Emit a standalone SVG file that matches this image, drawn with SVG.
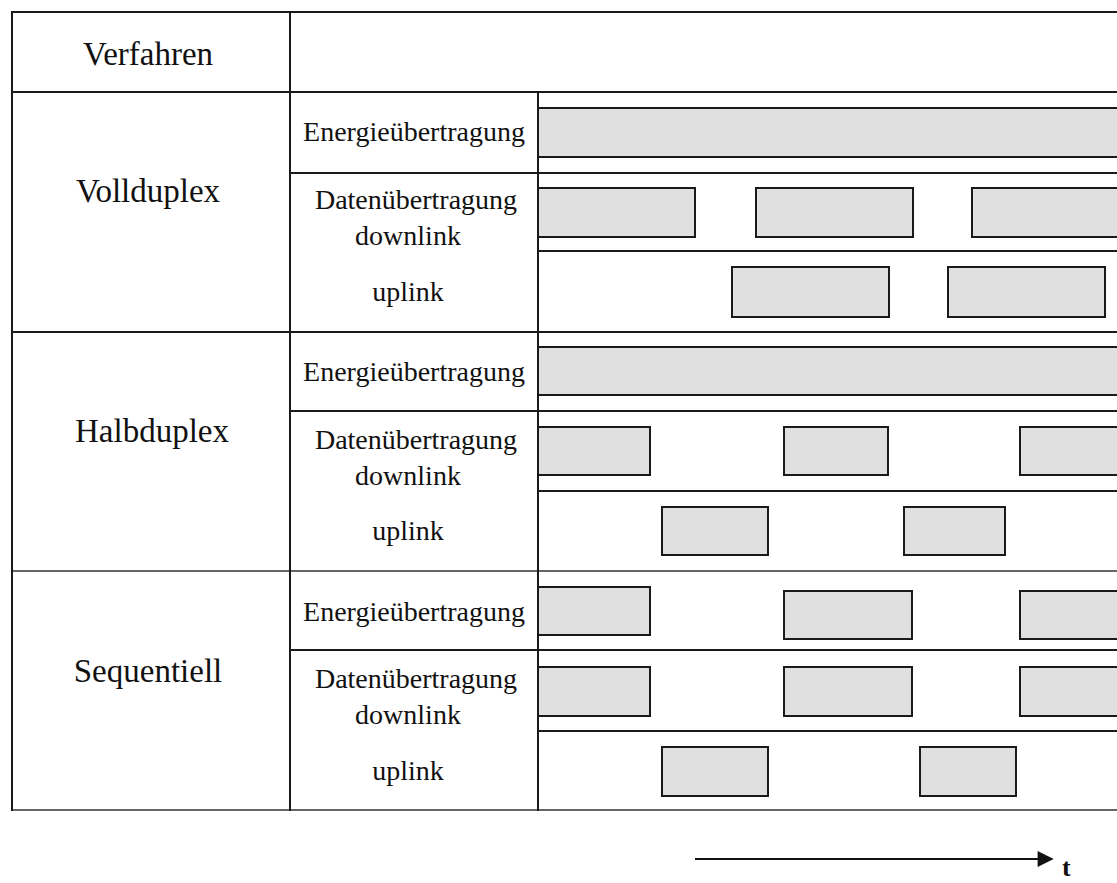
<svg xmlns="http://www.w3.org/2000/svg" width="1117" height="883" viewBox="0 0 1117 883">
  <style>
    .grid { stroke: #1a1a1a; stroke-width: 2; fill: none; }
    .soft { stroke: #666; stroke-width: 2; fill: none; }
    .bar { fill: #e0e0e0; stroke: #1a1a1a; stroke-width: 2; }
    .title { font-family: "Liberation Serif", "Times New Roman", serif; font-size: 33px; fill: #111; text-anchor: middle; }
    .label { font-family: "Liberation Serif", "Times New Roman", serif; font-size: 28px; fill: #111; text-anchor: middle; }
    .axis { font-family: "Liberation Serif", "Times New Roman", serif; font-size: 26px; font-weight: bold; fill: #111; }
  </style>
  <defs>
    <marker id="arrowhead" viewBox="0 0 10 10" refX="9" refY="5" markerWidth="17" markerHeight="16" markerUnits="userSpaceOnUse" orient="auto">
      <path d="M0,0 L10,5 L0,10 Z" fill="#111"/>
    </marker>
  </defs>

  <rect width="1117" height="883" fill="#ffffff"/>

  <!-- table frame -->
  <g id="table-frame">
    <line class="grid" x1="12" y1="12" x2="1117" y2="12"/>
    <line class="grid" x1="12" y1="92" x2="1117" y2="92"/>
    <line class="grid" x1="12" y1="332" x2="1117" y2="332"/>
    <line class="soft" x1="12" y1="571" x2="1117" y2="571"/>
    <line class="soft" x1="12" y1="810" x2="1117" y2="810"/>
    <line class="grid" x1="12" y1="11" x2="12" y2="811"/>
    <line class="grid" x1="290" y1="11" x2="290" y2="811"/>
    <line class="grid" x1="538" y1="92" x2="538" y2="811"/>
  </g>

  <!-- header -->
  <g id="header">
    <text class="title" x="148" y="65">Verfahren</text>
  </g>

  <!-- Vollduplex -->
  <g id="vollduplex">
    <text class="title" x="148" y="202">Vollduplex</text>
    <line class="grid" x1="290" y1="173" x2="1117" y2="173"/>
    <line class="grid" x1="538" y1="251" x2="1117" y2="251"/>
    <text class="label" x="414" y="141">Energieübertragung</text>
    <text class="label" x="416" y="209">Datenübertragung</text>
    <text class="label" x="408" y="245">downlink</text>
    <text class="label" x="408" y="301">uplink</text>
    <rect class="bar" x="538" y="108" width="600" height="49"/>
    <rect class="bar" x="538" y="188" width="157" height="49"/>
    <rect class="bar" x="756" y="188" width="157" height="49"/>
    <rect class="bar" x="972" y="188" width="160" height="49"/>
    <rect class="bar" x="732" y="267" width="157" height="50"/>
    <rect class="bar" x="948" y="267" width="157" height="50"/>
  </g>

  <!-- Halbduplex -->
  <g id="halbduplex">
    <text class="title" x="152" y="442">Halbduplex</text>
    <line class="grid" x1="290" y1="411" x2="1117" y2="411"/>
    <line class="grid" x1="538" y1="491" x2="1117" y2="491"/>
    <text class="label" x="414" y="381">Energieübertragung</text>
    <text class="label" x="416" y="449">Datenübertragung</text>
    <text class="label" x="408" y="485">downlink</text>
    <text class="label" x="408" y="540">uplink</text>
    <rect class="bar" x="538" y="347" width="600" height="48"/>
    <rect class="bar" x="538" y="427" width="112" height="48"/>
    <rect class="bar" x="784" y="427" width="104" height="48"/>
    <rect class="bar" x="1020" y="427" width="112" height="48"/>
    <rect class="bar" x="662" y="507" width="106" height="48"/>
    <rect class="bar" x="904" y="507" width="101" height="48"/>
  </g>

  <!-- Sequentiell -->
  <g id="sequentiell">
    <text class="title" x="148" y="682">Sequentiell</text>
    <line class="grid" x1="290" y1="650" x2="1117" y2="650"/>
    <line class="grid" x1="538" y1="731" x2="1117" y2="731"/>
    <text class="label" x="414" y="621">Energieübertragung</text>
    <text class="label" x="416" y="688">Datenübertragung</text>
    <text class="label" x="408" y="724">downlink</text>
    <text class="label" x="408" y="780">uplink</text>
    <rect class="bar" x="538" y="587" width="112" height="48"/>
    <rect class="bar" x="784" y="591" width="128" height="48"/>
    <rect class="bar" x="1020" y="591" width="112" height="48"/>
    <rect class="bar" x="538" y="667" width="112" height="49"/>
    <rect class="bar" x="784" y="667" width="128" height="49"/>
    <rect class="bar" x="1020" y="667" width="112" height="49"/>
    <rect class="bar" x="662" y="747" width="106" height="49"/>
    <rect class="bar" x="920" y="747" width="96" height="49"/>
  </g>

  <!-- time axis -->
  <g id="connectors">
    <line x1="695" y1="859" x2="1052" y2="859" stroke="#111" stroke-width="2" marker-end="url(#arrowhead)"/>
  </g>
  <g id="time-label">
    <text class="axis" x="1062" y="876">t</text>
  </g>
</svg>
